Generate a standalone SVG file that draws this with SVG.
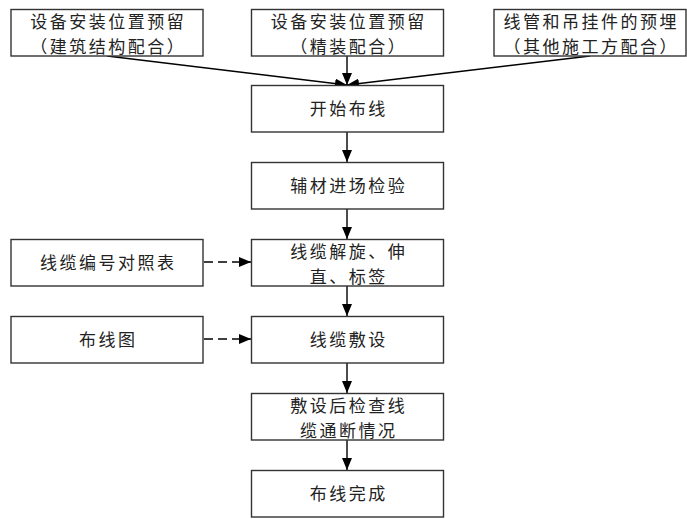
<svg xmlns="http://www.w3.org/2000/svg" width="687" height="519" viewBox="0 0 687 519">
<defs>
<style>
.box{fill:#fff;stroke:#333;stroke-width:1.4}
.t{font-family:"Noto Sans CJK SC","Noto Sans",sans-serif;font-size:17px;letter-spacing:2.5px;fill:#222;text-anchor:middle}
.c{stroke:#000;stroke-width:1.4;fill:none}
.d{stroke:#000;stroke-width:1.4;fill:none;stroke-dasharray:9 5}
</style>
<marker id="ah" viewBox="0 0 12 10" refX="12" refY="5" markerWidth="12" markerHeight="10" markerUnits="userSpaceOnUse" orient="auto">
<path d="M0,0 L12,5 L0,10 Z" fill="#000"/>
</marker>
</defs>
<rect width="687" height="519" fill="#fff"/>
<g id="connectors">
<line class="c" x1="107" y1="56" x2="347" y2="85" marker-end="url(#ah)"/>
<line class="c" x1="347" y1="56" x2="347" y2="85" marker-end="url(#ah)"/>
<line class="c" x1="590" y1="56" x2="347" y2="85" marker-end="url(#ah)"/>
<line class="c" x1="347" y1="132" x2="347" y2="162" marker-end="url(#ah)"/>
<line class="c" x1="347" y1="209" x2="347" y2="239" marker-end="url(#ah)"/>
<line class="c" x1="347" y1="286" x2="347" y2="316" marker-end="url(#ah)"/>
<line class="c" x1="347" y1="363" x2="347" y2="393" marker-end="url(#ah)"/>
<line class="c" x1="347" y1="440" x2="347" y2="470" marker-end="url(#ah)"/>
<line class="d" x1="204" y1="262" x2="251" y2="262" marker-end="url(#ah)"/>
<line class="d" x1="204" y1="339" x2="251" y2="339" marker-end="url(#ah)"/>
</g>
<g id="n1"><rect class="box" x="11" y="9.5" width="192" height="46.5"/><text class="t" x="108.2" y="28">设备安装位置预留</text><text class="t" x="108.2" y="52.8">（建筑结构配合）</text></g>
<g id="n2"><rect class="box" x="251.5" y="9.5" width="192" height="46.5"/><text class="t" x="348.7" y="28">设备安装位置预留</text><text class="t" x="348.7" y="52.8">（精装配合）</text></g>
<g id="n3"><rect class="box" x="494" y="9.5" width="192" height="46.5"/><text class="t" x="591.2" y="28">线管和吊挂件的预埋</text><text class="t" x="591.2" y="52.8">（其他施工方配合）</text></g>
<g id="n4"><rect class="box" x="251.5" y="85.5" width="192" height="46.5"/><text class="t" x="348.7" y="115">开始布线</text></g>
<g id="n5"><rect class="box" x="251.5" y="162.5" width="192" height="46.5"/><text class="t" x="348.7" y="192">辅材进场检验</text></g>
<g id="n6"><rect class="box" x="251.5" y="239.5" width="192" height="46.5"/><text class="t" x="348.7" y="258">线缆解旋、伸</text><text class="t" x="348.7" y="282.8">直、标签</text></g>
<g id="n7"><rect class="box" x="251.5" y="316.5" width="192" height="46.5"/><text class="t" x="348.7" y="346">线缆敷设</text></g>
<g id="n8"><rect class="box" x="251.5" y="393.5" width="192" height="46.5"/><text class="t" x="348.7" y="412">敷设后检查线</text><text class="t" x="348.7" y="436.8">缆通断情况</text></g>
<g id="n9"><rect class="box" x="251.5" y="470.5" width="192" height="46.5"/><text class="t" x="348.7" y="500">布线完成</text></g>
<g id="n10"><rect class="box" x="11" y="239.5" width="192" height="46.5"/><text class="t" x="108.2" y="269">线缆编号对照表</text></g>
<g id="n11"><rect class="box" x="11" y="316.5" width="192" height="46.5"/><text class="t" x="108.2" y="346">布线图</text></g>
</svg>
